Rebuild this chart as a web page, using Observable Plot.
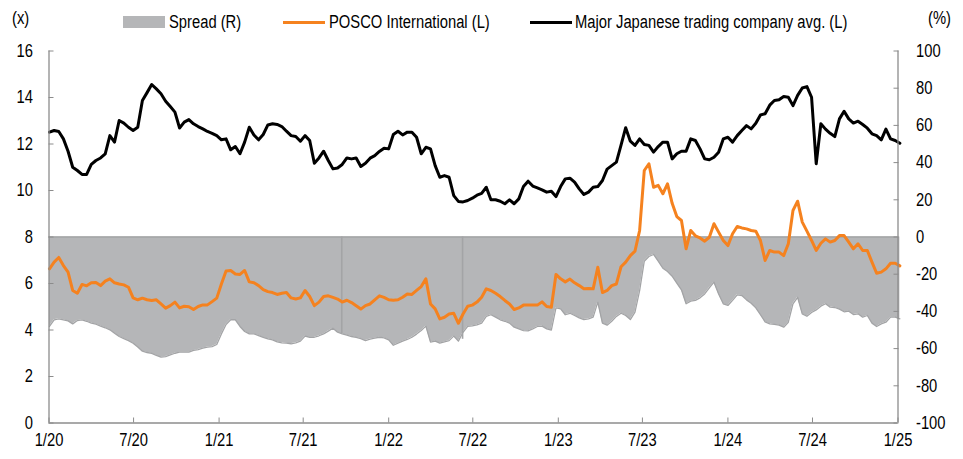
<!DOCTYPE html>
<html>
<head>
<meta charset="utf-8">
<script src="https://cdn.jsdelivr.net/npm/d3@7"></script>
<script src="https://cdn.jsdelivr.net/npm/@observablehq/plot@0.6"></script>
<style>
  html, body { margin: 0; padding: 0; background: #fff; }
  body { width: 963px; height: 459px; overflow: hidden; font-family: "Liberation Sans", Arial, sans-serif; }
  #legend { position: relative; width: 963px; height: 40px; font-size: 18px; color: #000; }
  #legend div { position: absolute; white-space: nowrap; line-height: 18px; }
  #legend .txt { transform: scaleX(0.82); transform-origin: 0 0; }
  svg { display: block; }
</style>
</head>
<body>
<div id="legend"></div>
<div id="chart"></div>
<script>
// Sampling grid: one reading every 10 days starting 2 Jan 2020
const startDate = "2020-01-02";
const stepDays = 10;

// POSCO International (L), x
const posco = [
  6.63, 6.92, 7.12, 6.77, 6.49, 5.70, 5.58, 5.96, 5.90, 6.03,
  6.04, 5.91, 6.10, 6.20, 6.03, 5.98, 5.94, 5.84, 5.38, 5.30,
  5.37, 5.30, 5.27, 5.30, 5.12, 4.94, 5.05, 5.20, 4.95, 5.02,
  5.00, 4.88, 5.01, 5.08, 5.08, 5.22, 5.37, 5.98, 6.54, 6.56,
  6.41, 6.39, 6.56, 6.07, 6.03, 5.91, 5.74, 5.65, 5.61, 5.53,
  5.58, 5.61, 5.38, 5.33, 5.38, 5.70, 5.44, 5.05, 5.20, 5.44,
  5.47, 5.40, 5.33, 5.20, 5.28, 5.18, 5.04, 4.90, 5.05, 5.12,
  5.30, 5.47, 5.40, 5.30, 5.28, 5.30, 5.41, 5.55, 5.53, 5.70,
  5.87, 6.20, 5.12, 4.91, 4.48, 4.55, 4.69, 4.72, 4.29, 4.69,
  5.02, 5.07, 5.20, 5.41, 5.77, 5.70, 5.58, 5.44, 5.27, 5.12,
  4.88, 4.95, 5.07, 5.08, 5.08, 5.07, 5.21, 5.01, 4.98, 6.39,
  6.20, 6.07, 6.19, 6.03, 5.91, 5.77, 5.78, 5.77, 6.70, 5.61,
  5.70, 5.91, 5.98, 6.72, 6.92, 7.20, 7.39, 8.28, 10.86, 11.15,
  10.14, 10.22, 9.86, 10.29, 9.45, 8.88, 8.71, 7.49, 8.28, 8.05,
  7.96, 7.82, 7.99, 8.57, 8.21, 7.85, 7.63, 8.14, 8.45, 8.39,
  8.35, 8.28, 8.25, 7.85, 6.99, 7.42, 7.35, 7.35, 7.20, 7.71,
  9.14, 9.54, 8.64, 8.25, 7.85, 7.42, 7.73, 7.92, 7.78, 7.85,
  8.06, 8.06, 7.78, 7.49, 7.71, 7.42, 7.42, 6.92, 6.44, 6.49,
  6.63, 6.87, 6.87, 6.76
];

// Major Japanese trading company avg. (L), x
const japan = [
  12.51, 12.58, 12.54, 12.22, 11.69, 11.00, 10.86, 10.69, 10.69, 11.12,
  11.29, 11.40, 11.58, 12.36, 12.08, 13.01, 12.90, 12.72, 12.58, 12.72,
  13.87, 14.21, 14.56, 14.37, 14.16, 13.84, 13.61, 13.37, 12.69, 12.94,
  13.05, 12.87, 12.75, 12.65, 12.54, 12.46, 12.36, 12.18, 12.22, 11.75,
  11.89, 11.58, 12.08, 12.72, 12.39, 12.18, 12.41, 12.82, 12.87, 12.84,
  12.75, 12.55, 12.36, 12.32, 12.12, 12.36, 12.15, 11.17, 11.40, 11.69,
  11.29, 10.93, 10.97, 11.12, 11.40, 11.36, 11.40, 11.03, 11.17, 11.39,
  11.50, 11.68, 11.82, 11.79, 12.41, 12.55, 12.39, 12.51, 12.51, 12.29,
  11.58, 11.86, 11.79, 11.07, 10.57, 10.64, 10.57, 9.78, 9.53, 9.51,
  9.57, 9.67, 9.80, 9.88, 10.14, 9.60, 9.60, 9.54, 9.43, 9.60,
  9.43, 9.64, 10.17, 10.40, 10.19, 10.11, 10.03, 9.93, 9.97, 9.74,
  10.17, 10.50, 10.53, 10.36, 10.07, 9.83, 9.93, 10.14, 10.17, 10.43,
  10.92, 11.07, 11.22, 11.95, 12.70, 12.12, 11.94, 12.22, 11.98, 11.94,
  11.65, 11.89, 12.08, 12.08, 11.36, 11.58, 11.69, 11.69, 12.22, 12.15,
  11.79, 11.36, 11.32, 11.43, 11.65, 12.22, 12.29, 12.08, 12.36, 12.58,
  12.79, 12.65, 12.89, 13.25, 13.30, 13.67, 13.87, 13.90, 14.04, 14.01,
  13.65, 14.09, 14.41, 14.47, 14.01, 11.15, 12.87, 12.64, 12.46, 12.32,
  13.08, 13.41, 13.08, 12.90, 12.98, 12.84, 12.68, 12.44, 12.36, 12.18,
  12.64, 12.22, 12.15, 12.03
];

// Spread (R), %
const spread = [
  -48.1, -44.5, -44.0, -44.5, -45.1, -46.7, -44.9, -44.5, -45.3, -46.3,
  -46.9, -47.9, -48.8, -49.9, -51.7, -53.5, -54.6, -55.7, -57.1, -59.2,
  -61.4, -62.1, -62.6, -63.7, -64.6, -64.3, -63.4, -62.5, -61.9, -61.9,
  -61.9, -61.0, -60.5, -59.8, -59.2, -58.9, -57.8, -52.1, -47.0, -44.5,
  -44.5, -48.1, -50.8, -52.1, -52.1, -53.0, -54.0, -54.8, -55.3, -56.4,
  -56.9, -57.1, -57.4, -56.9, -56.0, -53.3, -53.9, -53.9, -53.1, -52.1,
  -50.6, -49.0, -51.2, -52.1, -52.8, -53.5, -54.0, -54.6, -55.7, -54.9,
  -54.4, -53.9, -54.2, -55.3, -58.2, -57.1, -56.0, -55.1, -53.9, -52.2,
  -50.3, -47.9, -56.5, -56.0, -57.1, -56.4, -55.7, -53.3, -56.0, -51.2,
  -48.1, -47.8, -47.3, -46.3, -42.7, -41.8, -43.1, -44.5, -45.3, -46.3,
  -48.5, -49.4, -50.3, -50.5, -49.4, -48.1, -47.9, -49.4, -50.1, -38.1,
  -38.6, -41.8, -41.0, -42.2, -43.5, -44.4, -44.0, -43.1, -35.0, -46.3,
  -47.4, -45.3, -42.7, -41.0, -42.2, -44.4, -40.4, -28.8, -13.0, -10.5,
  -9.4, -13.0, -16.8, -18.6, -21.1, -24.8, -28.4, -35.9, -34.5, -34.1,
  -32.7, -30.6, -27.3, -24.3, -30.6, -35.9, -36.8, -34.1, -31.1, -31.5,
  -33.8, -35.6, -38.1, -41.8, -45.6, -46.7, -47.0, -47.4, -48.5, -45.8,
  -35.9, -32.4, -41.3, -42.6, -40.6, -39.2, -37.2, -35.9, -37.7, -37.9,
  -38.8, -40.2, -39.9, -41.7, -41.3, -43.1, -42.2, -46.3, -48.1, -46.7,
  -45.8, -43.1, -43.1, -44.0
];

// one-day spikes of the spread to zero
const spikeDates = ["2021-09-22", "2022-06-09"];
const spikeValues = [-52, -55];

// axis ticks
const xTickDates = ["2020-01-01","2020-07-01","2021-01-01","2021-07-01","2022-01-01","2022-07-01","2023-01-01","2023-07-01","2024-01-01","2024-07-01","2025-01-01"];
const xTickLabels = ["1/20","7/20","1/21","7/21","1/22","7/22","1/23","7/23","1/24","7/24","1/25"];
const yLeftTicks = [0, 2, 4, 6, 8, 10, 12, 14, 16];
const yRightLabels = ["-100", "-80", "-60", "-40", "-20", "0", "20", "40", "60", "80", "100"];

// right axis (%) maps onto left axis (x): 0% at 8x, ±100% at 16x / 0x
const toLeft = p => 8 + p * 0.08;

const start = new Date(startDate);
const rows = posco.map((v, i) => ({
  date: d3.utcDay.offset(start, stepDays * i),
  posco: v,
  japan: japan[i],
  spread: spread[i]
}));
const spikes = spikeDates.map((d, i) => ({date: new Date(d), value: spikeValues[i]}));
const xTicks = xTickDates.map(d => new Date(d));
const xStart = xTicks[0], xEnd = xTicks[xTicks.length - 1];
const rightTickPos = yRightLabels.map(s => toLeft(+s));

const font = '"Liberation Sans", Arial, sans-serif';
const axisColor = "#8c8c8c";
const spreadFill = "#b5b6b8";
const spreadEdge = "#a3a4a6";

const chart = Plot.plot({
  width: 963,
  height: 419,
  marginLeft: 48.5,
  marginRight: 65.5,
  marginTop: 10.5,
  marginBottom: 36.5,
  x: {type: "utc", domain: [xStart, xEnd]},
  y: {domain: [0, 16]},
  style: {fontFamily: font, fontSize: "18px", color: "#000", background: "#fff"},
  marks: [
    Plot.areaY(rows, {x: "date", y1: 8, y2: d => toLeft(d.spread), fill: spreadFill}),
    Plot.lineY(rows, {x: "date", y: d => toLeft(d.spread), stroke: spreadEdge, strokeWidth: 1.3}),
    Plot.ruleX(spikes, {x: "date", y1: d => toLeft(d.value), y2: 8, stroke: spreadEdge, strokeWidth: 1.6}),
    Plot.ruleY([8], {stroke: spreadEdge, strokeWidth: 1.3}),
    Plot.lineY(rows, {x: "date", y: "posco", stroke: "#f5821f", strokeWidth: 3}),
    Plot.lineY(rows, {x: "date", y: "japan", stroke: "#000000", strokeWidth: 3}),
    Plot.ruleX([xStart, xEnd], {y1: 0, y2: 16, stroke: axisColor, strokeWidth: 1.3}),
    Plot.ruleY([0], {stroke: axisColor, strokeWidth: 1.3}),
    Plot.axisY(yLeftTicks, {anchor: "left", tickSize: -5, tickPadding: 21, stroke: axisColor, fill: "#000", fontSize: 18}),
    Plot.axisY(rightTickPos, {anchor: "right", tickSize: -5, tickPadding: 23, stroke: axisColor, fill: "#000", fontSize: 18,
      tickFormat: d => yRightLabels[rightTickPos.indexOf(d)]}),
    Plot.axisX(xTicks, {anchor: "bottom", tickSize: -5, tickPadding: 15, stroke: axisColor, fill: "#000", fontSize: 18,
      tickFormat: d => xTickLabels[xTicks.findIndex(t => +t === +d)]})
  ]
});
// condense tick labels horizontally (narrow typeface look), anchored at each label's own position
chart.querySelectorAll('g[aria-label$="tick label"] text').forEach(el => {
  const t = el.getAttribute("transform") || "";
  el.setAttribute("transform", t + " scale(0.82,1)");
});
document.getElementById("chart").appendChild(chart);

// legend row above the chart
const legend = document.getElementById("legend");
const items = [
  {type: "text", text: "(x)", left: 12, top: 9},
  {type: "box", left: 123, top: 16, width: 42, height: 12, color: spreadFill},
  {type: "text", text: "Spread (R)", left: 169, top: 13},
  {type: "box", left: 283, top: 20.5, width: 42, height: 3, color: "#f5821f"},
  {type: "text", text: "POSCO International (L)", left: 329, top: 13},
  {type: "box", left: 530, top: 20.5, width: 42, height: 3, color: "#000"},
  {type: "text", text: "Major Japanese trading company avg. (L)", left: 575, top: 13},
  {type: "text", text: "(%)", left: 928, top: 9}
];
for (const it of items) {
  const el = document.createElement("div");
  el.style.left = it.left + "px";
  el.style.top = it.top + "px";
  if (it.type === "text") {
    el.className = "txt";
    el.textContent = it.text;
  } else {
    el.style.width = it.width + "px";
    el.style.height = it.height + "px";
    el.style.background = it.color;
  }
  legend.appendChild(el);
}
</script>
</body>
</html>
